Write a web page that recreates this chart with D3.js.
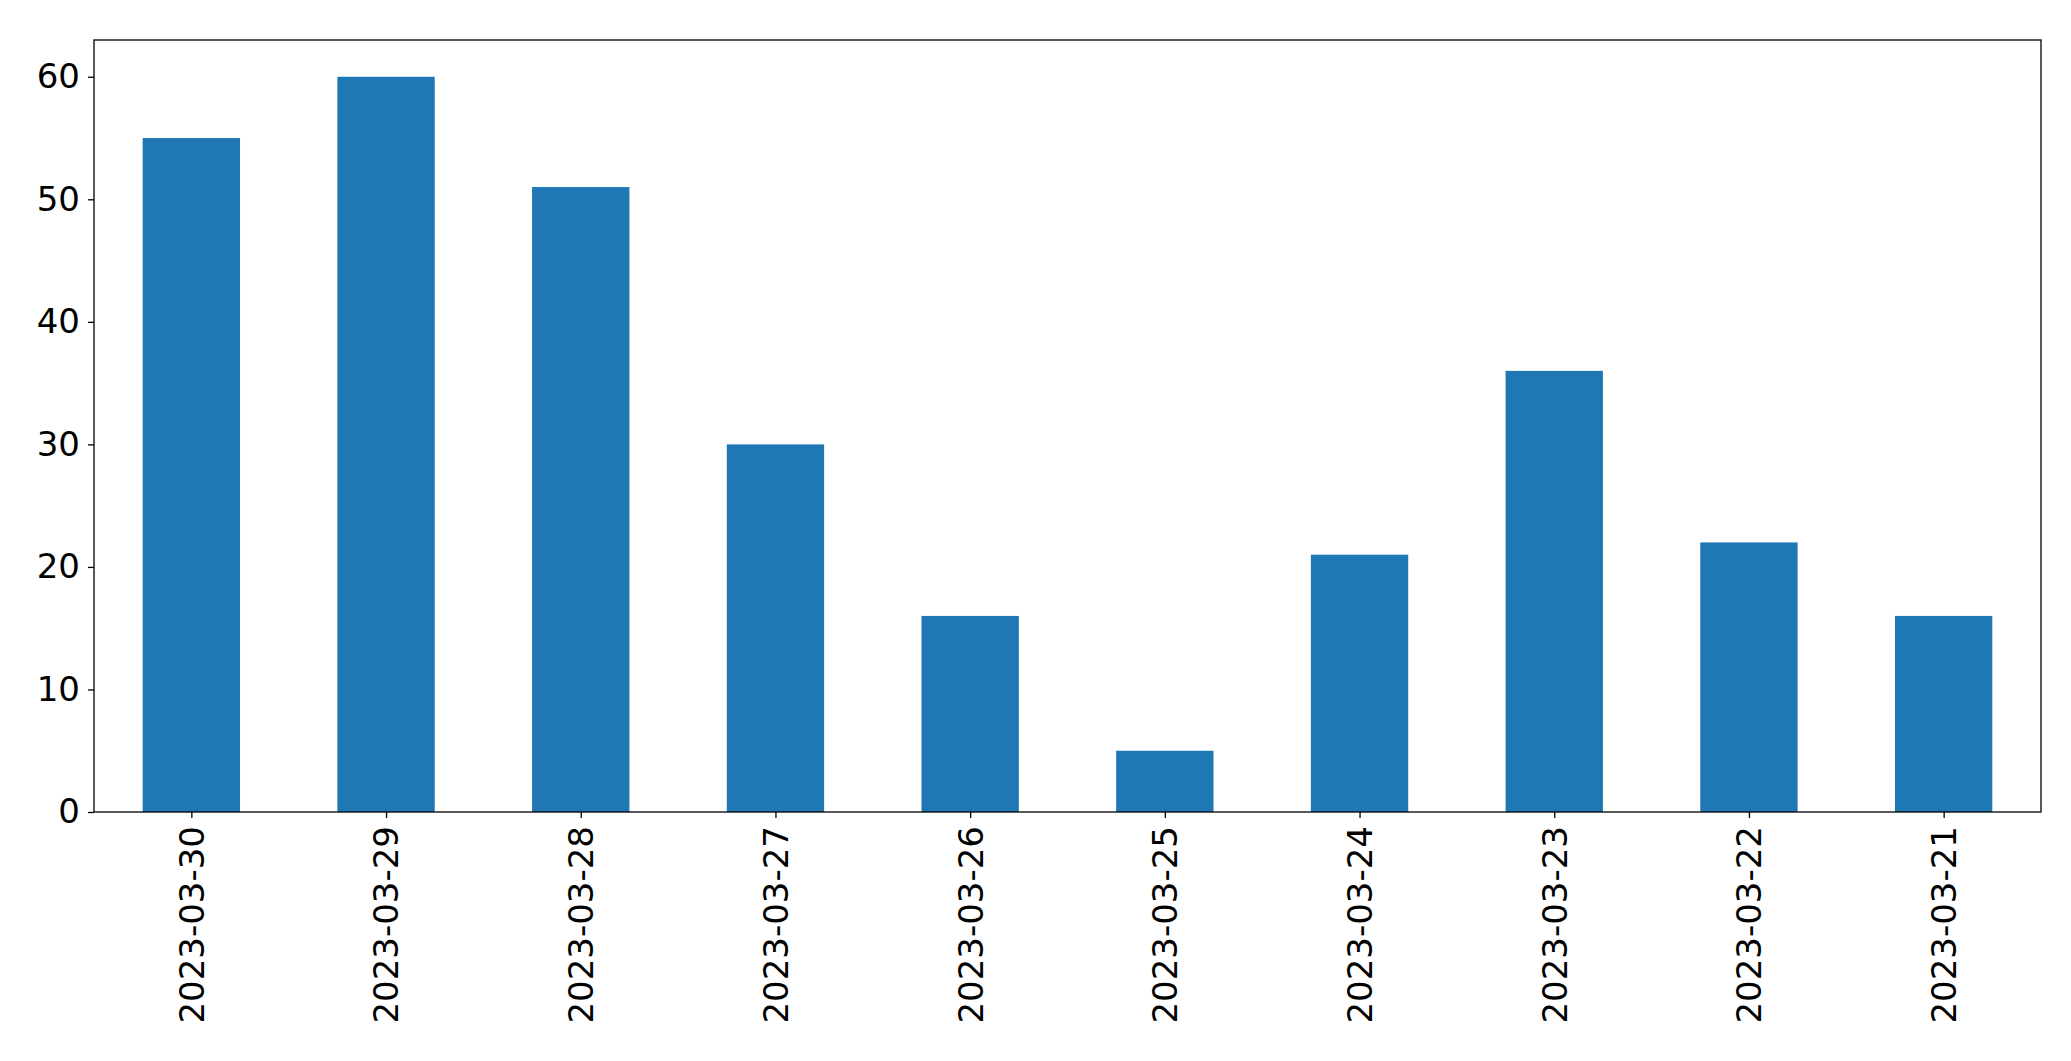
<!DOCTYPE html>
<html><head><meta charset="utf-8">
<script src="https://cdn.jsdelivr.net/npm/d3@7"></script>
<style>body{margin:0;background:#fff}</style>
</head><body>
<svg id="chart" width="2071" height="1061"></svg>
<script>
const dates = ["2023-03-30","2023-03-29","2023-03-28","2023-03-27","2023-03-26","2023-03-25","2023-03-24","2023-03-23","2023-03-22","2023-03-21"];
const counts = [55, 60, 51, 30, 16, 5, 21, 36, 22, 16];
const yTicks = [0, 10, 20, 30, 40, 50, 60];

const svg = d3.select("#chart");
const plotLeft = 94, plotRight = 2041, plotTop = 40, plotBottom = 812;

const x = d3.scaleLinear().domain([-0.5, dates.length - 0.5]).range([plotLeft, plotRight]);
const y = d3.scaleLinear().domain([0, 63]).range([plotBottom, plotTop]);
const bw = (x(1) - x(0)) * 0.5;

svg.selectAll("rect.bar").data(counts).enter().append("rect")
  .attr("class", "bar")
  .attr("x", (d, i) => x(i) - bw / 2)
  .attr("width", bw)
  .attr("y", d => y(d))
  .attr("height", d => plotBottom - y(d))
  .attr("fill", "#1f77b4");

const yAxis = svg.append("g").attr("transform", `translate(${plotLeft},0)`)
  .call(d3.axisLeft(y).tickValues(yTicks).tickSize(6).tickPadding(8));
const xAxis = svg.append("g").attr("transform", `translate(0,${plotBottom})`)
  .call(d3.axisBottom(x).tickValues(d3.range(dates.length)).tickFormat(i => dates[i]).tickSize(6).tickPadding(8));

[yAxis, xAxis].forEach(g => {
  g.select(".domain").remove();
  g.selectAll("line").attr("stroke", "#000").attr("stroke-width", 1.3);
  g.selectAll("text").attr("fill", "#000")
    .style("font-family", "DejaVu Sans").style("font-size", "34px");
});
xAxis.selectAll("text")
  .attr("transform", "rotate(-90)")
  .attr("text-anchor", "end")
  .attr("x", -14).attr("y", 0).attr("dy", "0.35em");

svg.append("rect").attr("x", plotLeft).attr("y", plotTop)
  .attr("width", plotRight - plotLeft).attr("height", plotBottom - plotTop)
  .attr("fill", "none").attr("stroke", "#000").attr("stroke-width", 1.3);
</script>
</body></html>
